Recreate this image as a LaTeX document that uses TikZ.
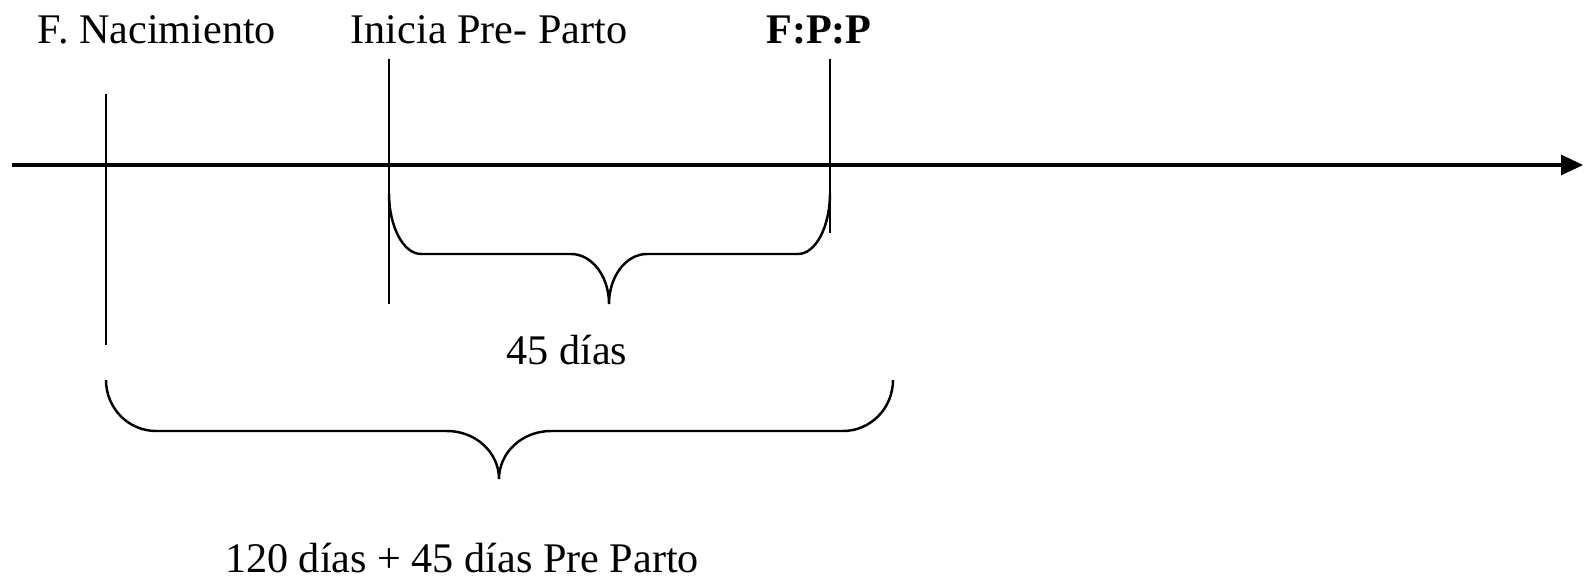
\documentclass[tikz,border=0pt]{standalone}
\usepackage{fontspec}
\setmainfont{Liberation Serif}
\usetikzlibrary{arrows.meta}
% llave: x izq, x der, x punta, y arriba, y tramo, y punta, radio extremos, radio punta
\newcommand{\llave}[8]{%
  \draw (#1,#4) arc[start angle=180, end angle=270, x radius=#7, y radius={#4-#5}]
     -- ({#3-#8},#5) arc[start angle=90, end angle=0, x radius=#8, y radius={#5-#6}]
     arc[start angle=180, end angle=90, x radius=#8, y radius={#5-#6}]
     -- ({#2-#7},#5) arc[start angle=270, end angle=360, x radius=#7, y radius={#4-#5}];}

\begin{document}
\begin{tikzpicture}[x=0.01cm, y=0.01cm, line width=0.7pt, font=\fontsize{12}{14}\selectfont]
        \useasboundingbox (0,0) rectangle (1591,582);
        \coordinate (ini) at (12,417);
        \coordinate (fin) at (1583,417);
        \draw[-{Triangle[length=2.2mm,width=2mm]}, line width=0.9pt] (ini) -- (fin);
        \node (nac) at (157,552) {F. Nacimiento};
        \node (pre) at (489,552) {Inicia Pre- Parto};
        \node (fpp) at (819,552) {\textbf{F:P:P}};
        \draw (106,488) -- (106,237);
        \draw (389,523) -- (389,278);
        \draw (830,523) -- (830,349);
        \llave{389}{830}{609}{389}{328}{278}{32}{38}
        \node (dias) at (567,232) {45 días};
        \llave{106}{893}{499}{202}{151}{103}{50}{52}
        \node (total) at (462,24) {120 días + 45 días Pre Parto};
\end{tikzpicture}
\end{document}
